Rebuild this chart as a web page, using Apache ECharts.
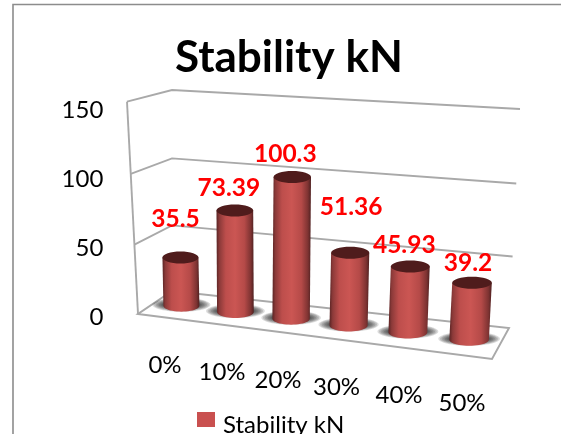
<!DOCTYPE html>
<html>
<head>
<meta charset="utf-8">
<style>html,body{margin:0;padding:0;background:#fff}#chart{width:561px;height:434px}</style>
<script src="https://cdn.jsdelivr.net/npm/echarts@6/dist/echarts.min.js"></script>
</head>
<body>
<div id="chart"></div>
<script>
// Stability by percentage, drawn as a perspective cylinder chart.
const categories = ['0%', '10%', '20%', '30%', '40%', '50%'];
const stability = [35.5, 73.39, 100.3, 51.36, 45.93, 39.2];
const valueTicks = [0, 50, 100, 150];
const seriesName = 'Stability kN';

// Hand placement of the value labels relative to the top of each cylinder.
const labelNudge = [[-5, -38], [-6, -22], [-7, -23], [1, -46], [-6, -21], [-4, -20]];
// Hand placement of the category labels along the slanted floor edge.
const tickNudge = [[0, 0], [-2.4, 7.6], [-5.8, 15], [-6.7, 22], [-3.6, 30], [0, 38]];

// Corners of the 3D box on screen: [front|back][left|right][bottom|top].
const box = {
  flb: [138, 314], flt: [127, 101.7],
  frb: [492, 359], frt: [507, 128],
  blb: [172, 291], blt: [172, 90],
  brb: [509, 328], brt: [520, 109]
};
const mix = (a, b, t) => [a[0] + (b[0] - a[0]) * t, a[1] + (b[1] - a[1]) * t];
const foreshorten = (t, k) => t * k / (1 + (k - 1) * t);

// Maps box coordinates (across, depth, height; all 0..1) to the screen.
function project(u, d, v) {
  const ux = foreshorten(u, 0.91), vy = foreshorten(v, 0.97);
  const bottom = mix(mix(box.flb, box.frb, ux), mix(box.blb, box.brb, ux), d);
  const top = mix(mix(box.flt, box.frt, ux), mix(box.blt, box.brt, ux), d);
  return mix(bottom, top, vy);
}

const wallColor = '#a9a9a9';
const wallStyle = { stroke: wallColor, lineWidth: 1.9, fill: null };

function renderWalls(params, api) {
  const sys = params.coordSys;
  const tick = api.value(1);
  const v = (sys.y + sys.height - api.coord([0, tick])[1]) / sys.height;
  const children = [];
  if (tick === 0) {
    children.push({
      type: 'polygon',
      shape: { points: [project(0, 0, 0), project(1, 0, 0), project(1, 1, 0), project(0, 1, 0)] },
      style: { stroke: wallColor, lineWidth: 1.9, fill: '#fff' }
    });
    children.push({
      type: 'polyline',
      shape: { points: [project(0, 0, 0), project(0, 0, 1)] },
      style: wallStyle
    });
  } else {
    children.push({
      type: 'polyline',
      shape: { points: [project(0, 0, v), project(0, 1, v), project(1, 1, v)] },
      style: wallStyle
    });
  }
  return { type: 'group', children };
}

const cylinderFill = {
  type: 'linear', x: 0, y: 0, x2: 1, y2: 0,
  colorStops: [
    { offset: 0, color: '#5a2424' },
    { offset: 0.08, color: '#8c3a39' },
    { offset: 0.25, color: '#bd4e4c' },
    { offset: 0.5, color: '#cb5653' },
    { offset: 0.75, color: '#b54a48' },
    { offset: 0.92, color: '#7e3332' },
    { offset: 1, color: '#4e2020' }
  ]
};

// Soft contact shadow built from stacked translucent ellipses.
function floorShadow(base, rx) {
  const layers = [];
  for (let s = 0; s < 7; s++) {
    layers.push({
      type: 'ellipse',
      shape: { cx: base[0], cy: base[1] - 1, rx: rx + 11 - s * 1.6, ry: 7 - s * 0.6 },
      style: { fill: 'rgba(20,20,20,0.15)' }
    });
  }
  return layers;
}

function renderCylinders(params, api) {
  const sys = params.coordSys;
  const idx = api.value(0);
  const val = api.value(1);
  const pt = api.coord([idx, val]);
  const band = api.size([1, 0])[0];
  const u = (pt[0] - sys.x) / sys.width;
  const v = (sys.y + sys.height - pt[1]) / sys.height;
  const base = project(u, 0.5, 0);
  const top = project(u, 0.5, v);
  const rx = band * 0.3 * (1 + 0.12 * u);
  const ry = 6;
  const arc = [];
  for (let a = 0; a <= 24; a++) {
    const t = Math.PI * a / 24;
    arc.push([base[0] + rx * Math.cos(t), base[1] + ry * Math.sin(t)]);
  }
  const body = [[top[0] - rx, top[1]], [top[0] + rx, top[1]]].concat(arc);
  const nudge = labelNudge[idx];
  return {
    type: 'group',
    children: floorShadow(base, rx).concat([
      { type: 'polygon', shape: { points: body }, style: { fill: cylinderFill } },
      {
        type: 'ellipse',
        shape: { cx: top[0], cy: top[1], rx: rx, ry: ry },
        style: { fill: '#4f1c1c' }
      },
      {
        type: 'text',
        z2: 50,
        style: {
          text: String(val),
          x: top[0] + nudge[0], y: top[1] + nudge[1],
          align: 'center', verticalAlign: 'middle',
          fill: '#ff0000', font: 'bold 24.5px Lato'
        }
      }
    ])
  };
}

const chart = echarts.init(document.getElementById('chart'), null, { renderer: 'canvas' });
chart.setOption({
  animation: false,
  backgroundColor: '#fff',
  title: {
    text: seriesName,
    left: 170, top: 31,
    textStyle: { fontFamily: 'Lato', fontWeight: 'bold', fontSize: 44, color: '#000' }
  },
  legend: {
    show: true,
    left: 197, top: 412,
    padding: 0,
    itemWidth: 18, itemHeight: 15, itemGap: 6,
    icon: 'rect',
    data: [seriesName],
    formatter: '{t|{name}}',
    textStyle: {
      rich: { t: { fontFamily: 'Lato', fontSize: 24, color: '#000', padding: [12, 0, 0, 3] } }
    }
  },
  grid: { left: 135.3, top: 110, width: 356.4, height: 207 },
  xAxis: {
    type: 'category',
    data: categories.map((c, i) => ({
      value: c,
      textStyle: { padding: [tickNudge[i][1], Math.max(0, -2 * tickNudge[i][0]), 0, 0] }
    })),
    axisLine: { show: false },
    axisTick: { show: false },
    splitLine: { show: false },
    axisLabel: { margin: 36, interval: 0, fontFamily: 'Lato', fontSize: 24, color: '#000' }
  },
  yAxis: {
    type: 'value', min: 0, max: 150, interval: 50,
    axisLine: { show: false },
    axisTick: { show: false },
    splitLine: { show: false },
    axisLabel: { margin: 32, fontFamily: 'Lato', fontSize: 24, color: '#000' }
  },
  graphic: [{
    type: 'polyline',
    shape: { points: [[13, 434], [13, 4.5], [561, 4.5]] },
    style: { stroke: '#8c8c8c', lineWidth: 1.6, fill: null },
    silent: true
  }],
  series: [
    {
      type: 'custom',
      name: 'walls',
      clip: false, silent: true, z: 1,
      renderItem: renderWalls,
      data: valueTicks.map(t => [0, t])
    },
    {
      type: 'custom',
      name: seriesName,
      clip: false, z: 2,
      itemStyle: { color: '#c9504f' },
      renderItem: renderCylinders,
      data: stability.map((s, i) => [i, s])
    }
  ]
});
</script>
</body>
</html>
